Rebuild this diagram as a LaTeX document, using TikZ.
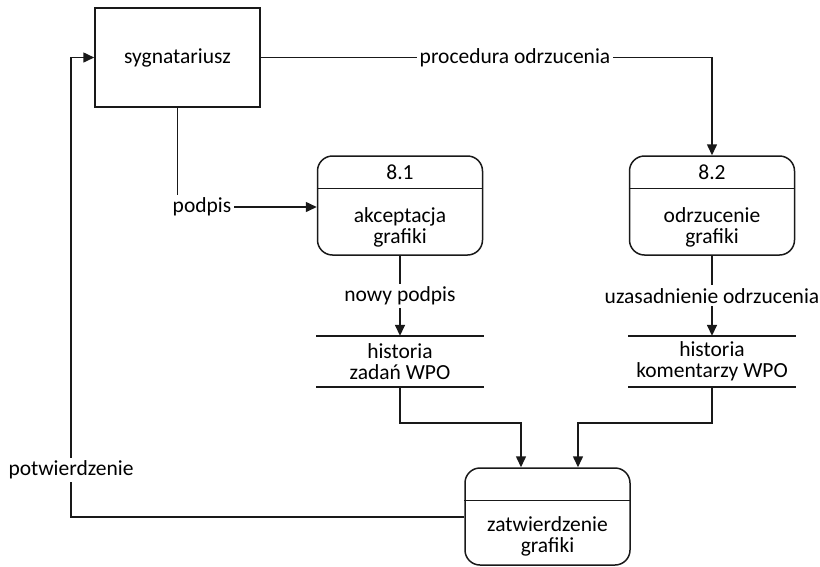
\documentclass[tikz,border=0pt]{standalone}
\usepackage{fontspec}
\setmainfont{Carlito}
\usetikzlibrary{arrows.meta}
\begin{document}
\begin{tikzpicture}[x=1pt,y=-1pt,
  every node/.style={font=\fontsize{21.5}{21.5}\selectfont, align=center, inner sep=2pt},
  line/.style={line width=1.5pt, draw=black!90},
  flow/.style={line, -{Triangle[length=11pt,width=10pt]}},
  entity/.style={line, rectangle, minimum width=165pt, minimum height=99pt},
  proc/.style={line, rectangle, rounded corners=15pt, minimum width=165pt, minimum height=99pt},
  store/.style={rectangle, minimum width=167pt, minimum height=51pt},
  lbl/.style={fill=white, inner sep=3pt}]
\useasboundingbox (0,0) rectangle (820,566);

% external entity
\node[entity] (syg) at (177.5,57.5) {sygnatariusz};

% processes
\node[proc] (p81) at (400,205.5) {};
\node[proc] (p82) at (712,205.5) {};
\node[proc, minimum height=97pt] (p3) at (547.5,516.5) {};
\foreach \p in {p81,p82,p3}
  \draw[line] ([yshift=-33pt]\p.north west) -- ([yshift=-33pt]\p.north east);
\node at ([yshift=-17pt]p81.north) {8.1};
\node at ([yshift=-17pt]p82.north) {8.2};
\node at ([yshift=-22pt]p81.center) {akceptacja\\grafiki};
\node at ([yshift=-22pt]p82.center) {odrzucenie\\grafiki};
\node at ([yshift=-20pt]p3.center) {zatwierdzenie\\grafiki};

% data stores
\node[store] (s1) at (400,361.5) {historia\\zadań WPO};
\node[store] (s2) at (712,361.5) {historia\\komentarzy WPO};
\foreach \s in {s1,s2} {
  \draw[line] (\s.north west) -- (\s.north east);
  \draw[line] (\s.south west) -- (\s.south east);
}

% flows
\draw[flow] (syg.east) -| (p82.north);
\node[lbl] at (515,57.5) {procedura odrzucenia};

\draw[flow] (syg.south) |- ([yshift=-1.5pt]p81.west);
\node[lbl] at (202,207) {podpis};

\draw[flow] (p81.south) -- (s1.north) node[midway, lbl] {nowy podpis};
\draw[flow] (p82.south) -- (s2.north) node[midway, lbl] {uzasadnienie odrzucenia};

\draw[flow] (s1.south) -- (s1.south |- 0,423) -| ([xshift=-26.5pt]p3.north);
\draw[flow] (s2.south) -- (s2.south |- 0,423) -| ([xshift=30.5pt]p3.north);

\draw[flow] (p3.west |- 0,517) -- (71,517) |- (syg.west);
\node[lbl] at (71,470) {potwierdzenie};
\end{tikzpicture}
\end{document}
